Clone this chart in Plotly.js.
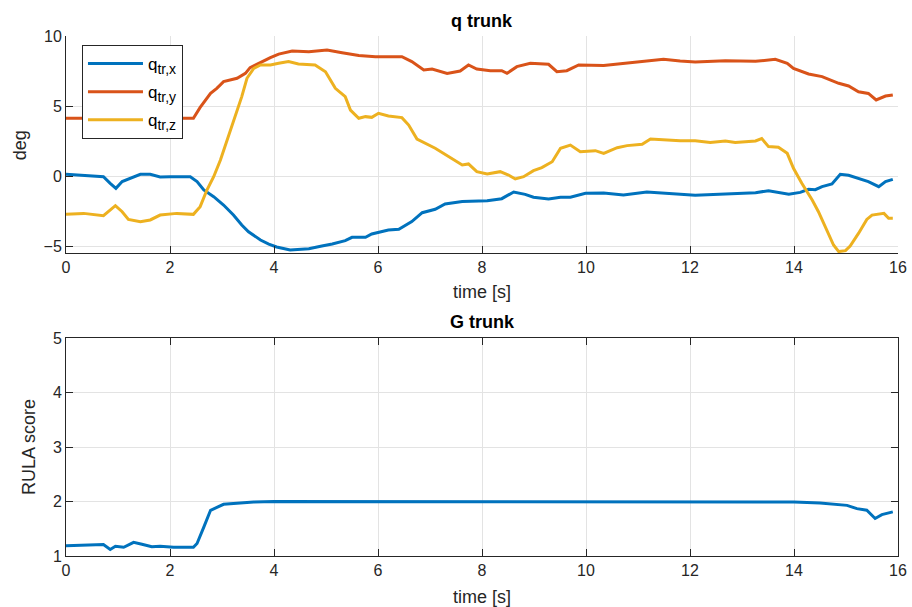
<!DOCTYPE html>
<html>
<head>
<meta charset="utf-8">
<script src="https://cdn.plot.ly/plotly-3.0.1.min.js"></script>
<style>
  html, body { margin: 0; padding: 0; background: #ffffff; }
  #chart { width: 912px; height: 607px; }
</style>
</head>
<body>
<div id="chart"></div>
<script>
// Trunk joint angles q_tr (deg) over time (s)
const tX = [0, 0.53, 0.72, 0.85, 0.96, 1.08, 1.24, 1.43, 1.62, 1.81, 2.0, 2.39, 2.52, 2.65, 2.84, 3.03, 3.22, 3.38, 3.51, 3.74, 3.9, 4.05, 4.31, 4.67, 4.92, 5.12, 5.37, 5.5, 5.76, 5.88, 6.2, 6.4, 6.65, 6.85, 7.1, 7.29, 7.62, 7.85, 8.1, 8.38, 8.61, 8.83, 8.99, 9.28, 9.51, 9.7, 9.99, 10.34, 10.72, 11.17, 11.81, 12.1, 12.68, 13.26, 13.51, 13.9, 14.12, 14.28, 14.41, 14.54, 14.73, 14.89, 15.05, 15.43, 15.63, 15.76, 15.9];
const qX = [0.12, 0.02, -0.05, -0.52, -0.88, -0.4, -0.17, 0.12, 0.12, -0.07, -0.05, -0.05, -0.4, -1.0, -1.48, -2.07, -2.79, -3.5, -3.98, -4.57, -4.86, -5.07, -5.29, -5.19, -5.0, -4.86, -4.62, -4.38, -4.38, -4.14, -3.86, -3.81, -3.26, -2.62, -2.38, -2.0, -1.83, -1.8, -1.76, -1.62, -1.14, -1.31, -1.52, -1.64, -1.52, -1.52, -1.24, -1.21, -1.36, -1.14, -1.31, -1.38, -1.29, -1.19, -1.05, -1.31, -1.17, -0.95, -0.98, -0.76, -0.57, 0.12, 0.05, -0.4, -0.76, -0.4, -0.24];

const tY = [0, 1.0, 2.0, 2.45, 2.58, 2.78, 2.9, 3.03, 3.29, 3.45, 3.54, 3.74, 3.93, 4.09, 4.35, 4.67, 5.02, 5.31, 5.63, 5.95, 6.2, 6.46, 6.65, 6.88, 7.04, 7.33, 7.58, 7.74, 7.9, 8.16, 8.38, 8.48, 8.67, 8.93, 9.28, 9.44, 9.63, 9.86, 10.34, 10.72, 11.17, 11.49, 11.81, 12.1, 12.68, 13.26, 13.64, 13.87, 13.99, 14.28, 14.54, 14.86, 15.05, 15.24, 15.43, 15.58, 15.76, 15.9];
const qY = [4.12, 4.12, 4.12, 4.12, 4.9, 5.9, 6.26, 6.74, 6.98, 7.33, 7.74, 8.12, 8.45, 8.71, 8.93, 8.88, 9.0, 8.81, 8.6, 8.52, 8.52, 8.52, 8.17, 7.57, 7.64, 7.33, 7.5, 7.93, 7.64, 7.52, 7.52, 7.33, 7.81, 8.05, 7.98, 7.45, 7.52, 7.93, 7.9, 8.05, 8.21, 8.33, 8.21, 8.14, 8.24, 8.19, 8.33, 8.05, 7.69, 7.29, 7.1, 6.62, 6.43, 6.02, 5.9, 5.43, 5.71, 5.79];

const tZ = [0, 0.34, 0.72, 0.95, 1.08, 1.2, 1.43, 1.62, 1.81, 2.0, 2.13, 2.45, 2.58, 2.71, 2.84, 2.97, 3.1, 3.22, 3.38, 3.48, 3.61, 3.74, 3.93, 4.09, 4.28, 4.47, 4.79, 4.99, 5.18, 5.37, 5.47, 5.63, 5.76, 5.88, 6.01, 6.2, 6.46, 6.59, 6.75, 7.1, 7.36, 7.62, 7.74, 7.9, 8.1, 8.35, 8.51, 8.64, 8.8, 8.99, 9.15, 9.35, 9.51, 9.7, 9.89, 10.18, 10.34, 10.6, 10.79, 11.08, 11.24, 11.81, 12.1, 12.39, 12.68, 12.87, 13.26, 13.38, 13.51, 13.7, 13.87, 13.99, 14.15, 14.35, 14.47, 14.63, 14.76, 14.86, 14.99, 15.08, 15.24, 15.4, 15.5, 15.73, 15.82, 15.9];
const qZ = [-2.74, -2.67, -2.83, -2.12, -2.55, -3.1, -3.26, -3.14, -2.79, -2.74, -2.67, -2.74, -2.19, -1.0, -0.05, 1.14, 2.57, 4.0, 5.67, 6.98, 7.69, 7.93, 7.93, 8.05, 8.17, 8.0, 7.93, 7.45, 6.26, 5.67, 4.71, 4.12, 4.24, 4.19, 4.48, 4.29, 4.17, 3.64, 2.64, 1.98, 1.38, 0.79, 0.86, 0.31, 0.14, 0.31, 0.07, -0.21, -0.05, 0.38, 0.6, 1.02, 1.98, 2.21, 1.74, 1.81, 1.62, 2.02, 2.17, 2.26, 2.64, 2.52, 2.52, 2.4, 2.5, 2.4, 2.5, 2.67, 2.1, 2.05, 1.62, 0.55, -0.52, -1.71, -2.55, -3.86, -4.93, -5.4, -5.33, -5.0, -4.1, -3.1, -2.79, -2.67, -3.02, -3.02];

// Trunk RULA score G over time (s)
const tG = [0, 0.63, 0.72, 0.85, 0.95, 1.11, 1.3, 1.46, 1.65, 1.81, 2.07, 2.45, 2.52, 2.65, 2.78, 3.03, 3.29, 3.61, 4.0, 6.7, 7.2, 7.6, 8.0, 8.5, 9.0, 9.5, 10.0, 14.0, 14.5, 15.02, 15.21, 15.4, 15.56, 15.69, 15.9];
const gTrunk = [1.19, 1.215, 1.21, 1.12, 1.18, 1.16, 1.25, 1.215, 1.17, 1.18, 1.16, 1.16, 1.23, 1.53, 1.84, 1.95, 1.97, 1.99, 2.0, 2.0, 1.99, 1.99, 2.0, 1.99, 2.0, 1.995, 2.0, 1.99, 1.975, 1.93, 1.87, 1.84, 1.69, 1.76, 1.81];

const subscripts = ['tr,x', 'tr,y', 'tr,z'];
const seriesColors = ['#0072BD', '#D95319', '#EDB120'];
const xTicks = [0, 2, 4, 6, 8, 10, 12, 14, 16];
const qTicks = [-5, 0, 5, 10];
const gTicks = [1, 2, 3, 4, 5];

const FONT = 'Liberation Sans, Arial, Helvetica, sans-serif';
const INK = '#262626';
const GRID = '#e3e3e3';

const legendName = (s) => 'q<sub><span style="font-size:14px">' + s + '</span></sub>';
const lineStyle = (c) => ({ color: c, width: 3 });

const traces = [
  { x: tX, y: qX, name: legendName(subscripts[0]), legendgroup: 'qx', line: lineStyle(seriesColors[0]), xaxis: 'x', yaxis: 'y' },
  { x: tY, y: qY, name: legendName(subscripts[1]), legendgroup: 'qy', line: lineStyle(seriesColors[1]), xaxis: 'x', yaxis: 'y' },
  { x: tZ, y: qZ, name: legendName(subscripts[2]), legendgroup: 'qz', line: lineStyle(seriesColors[2]), xaxis: 'x', yaxis: 'y' },
  { x: tG, y: gTrunk, name: 'G', showlegend: false, line: lineStyle(seriesColors[0]), xaxis: 'x2', yaxis: 'y2' }
].map(t => Object.assign({ type: 'scatter', mode: 'lines' }, t));

const axisBase = {
  showline: true, linecolor: INK, linewidth: 1,
  ticks: 'inside', ticklen: 7, tickcolor: INK, tickwidth: 1,
  showgrid: true, gridcolor: GRID, gridwidth: 1,
  zeroline: false,
  tickfont: { family: FONT, size: 16, color: INK }
};

const layout = {
  width: 912, height: 607,
  margin: { l: 66, r: 14, t: 36, b: 51 },
  paper_bgcolor: '#ffffff', plot_bgcolor: '#ffffff',
  font: { family: FONT, color: INK },
  showlegend: true,
  legend: {
    x: 0.0192, y: 0.9827, xanchor: 'left', yanchor: 'top',
    bgcolor: '#ffffff', bordercolor: INK, borderwidth: 1,
    font: { family: FONT, size: 17, color: '#000000' },
    itemwidth: 55,
    traceorder: 'grouped',
    tracegroupgap: 3
  },
  xaxis: Object.assign({}, axisBase, {
    domain: [0, 1], anchor: 'y', range: [0, 16], tickvals: xTicks, mirror: false
  }),
  yaxis: Object.assign({}, axisBase, {
    domain: [0.5827, 1], anchor: 'x', range: [-5.5, 10], tickvals: qTicks, mirror: false
  }),
  xaxis2: Object.assign({}, axisBase, {
    domain: [0, 1], anchor: 'y2', range: [0, 16], tickvals: xTicks, mirror: 'ticks'
  }),
  yaxis2: Object.assign({}, axisBase, {
    domain: [0, 0.4187], anchor: 'x2', range: [1, 5], tickvals: gTicks, mirror: 'ticks'
  }),
  annotations: [
    { text: '<b>q trunk</b>', x: 0.5, y: 1.0288, font: { size: 18, color: '#000000' } },
    { text: '<b>G trunk</b>', x: 0.5, y: 0.45, font: { size: 18, color: '#000000' } },
    { text: 'time [s]', x: 0.5, y: 0.5077, font: { size: 18, color: INK } },
    { text: 'time [s]', x: 0.5, y: -0.0788, font: { size: 18, color: INK } },
    { text: 'deg', x: -0.0553, y: 0.790, textangle: -90, font: { size: 18, color: INK } },
    { text: 'RULA score', x: -0.0445, y: 0.2096, textangle: -90, font: { size: 18, color: INK } }
  ].map(a => Object.assign({
    xref: 'paper', yref: 'paper', xanchor: 'center', yanchor: 'middle',
    showarrow: false
  }, a, { font: Object.assign({ family: FONT }, a.font) }))
};

Plotly.newPlot('chart', traces, layout, { displayModeBar: false, staticPlot: true });
</script>
</body>
</html>
